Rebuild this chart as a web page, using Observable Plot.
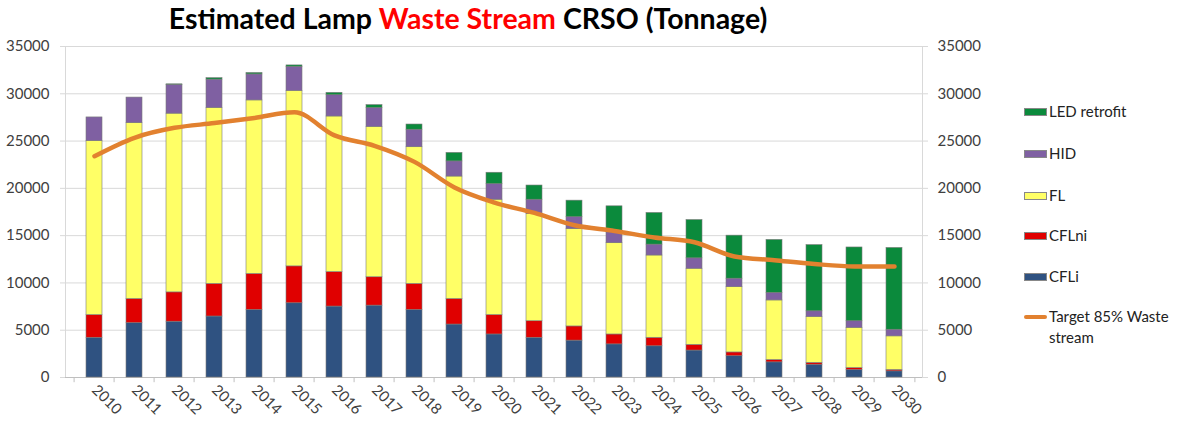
<!DOCTYPE html>
<html>
<head>
<meta charset="utf-8">
<script src="https://cdn.jsdelivr.net/npm/d3@7"></script>
<script src="https://cdn.jsdelivr.net/npm/@observablehq/plot@0.6"></script>
<style>
  body { margin: 0; background: #fff; font-family: Lato, "Open Sans", sans-serif; }
  #wrap { position: relative; width: 1180px; height: 427px; overflow: hidden; }
  #title { position: absolute; left: 0; top: 1px; width: 936px; text-align: center;
           font-weight: 700; font-size: 28.5px; color: #000; white-space: nowrap; }
  #title .red { color: #f00; }
  #chart { position: absolute; left: 0; top: 0; }
  .leg { position: absolute; left: 1024px; font-size: 15px; color: #222; line-height: 21px; white-space: nowrap; }
  .sw { display: inline-block; width: 23px; height: 8px; vertical-align: middle; margin-right: 2px;
        box-sizing: border-box; border: 0.5px solid #888; position: relative; top: -1px; }
  .ln { display: inline-block; width: 23px; height: 4px; border-radius: 2px; vertical-align: middle;
        margin-right: 2px; position: relative; top: -1px; }
</style>
</head>
<body>
<div id="wrap">
  <div id="chart"></div>
  <div id="title">Estimated Lamp <span class="red">Waste Stream</span> CRSO (Tonnage)</div>
  <div id="legend"></div>
</div>
<script>
// ---- data (tonnes) ----
const years = ["2010","2011","2012","2013","2014","2015","2016","2017","2018","2019","2020",
               "2021","2022","2023","2024","2025","2026","2027","2028","2029","2030"];
const seriesNames = ["CFLi", "CFLni", "FL", "HID", "LED retrofit"];
const seriesColors = ["#2F5281", "#E00000", "#FFFF66", "#7F60A2", "#0B8A3C"];
const CFLi  = [4200,5750,5900,6450,7150,7850,7500,7600,7150,5600,4550,4200,3900,3500,3300,2850,2250,1600,1350,800,650];
const CFLni = [2400,2550,3100,3450,3800,3900,3650,3000,2750,2700,2050,1750,1500,1050,900,600,400,250,200,200,150];
const FL    = [18400,18600,18900,18600,18350,18550,16450,15900,14450,12950,12200,11350,10300,9650,8700,8050,6900,6300,4850,4250,3550];
const HID   = [2500,2700,3050,3000,2750,2550,2250,2000,1850,1600,1650,1500,1250,1150,1150,1100,900,800,600,700,700];
const LED   = [0,0,50,150,150,150,250,300,550,900,1200,1500,1750,2750,3350,4050,4550,5600,7000,7800,8650];
const target = [23400,25350,26400,26900,27450,28050,25600,24500,22800,20100,18500,17400,16100,15500,14800,14300,12800,12400,12000,11750,11750];
const targetName = "Target 85% Waste stream";
const yTicks = [0,5000,10000,15000,20000,25000,30000,35000];

const seriesValues = [CFLi, CFLni, FL, HID, LED];
const rows = [];
years.forEach((yr, i) => {
  seriesValues.forEach((arr, s) => rows.push({year: yr, series: seriesNames[s], value: arr[i]}));
});
const lineRows = years.map((yr, i) => ({year: yr, value: target[i]}));

const step = 857 / years.length;

const chart = Plot.plot({
  width: 1180,
  height: 427,
  marginTop: 46,
  marginBottom: 50,
  marginLeft: 65,
  marginRight: 258,
  x: {domain: years, paddingInner: 0.6, paddingOuter: 0.3, axis: null, label: null},
  y: {domain: [0, 35000], axis: null, label: null},
  color: {domain: seriesNames, range: seriesColors},
  style: {fontFamily: "Lato, 'Open Sans', sans-serif", fontSize: "15px", background: "transparent"},
  marks: [
    Plot.gridY(yTicks, {stroke: "#d9d9d9", strokeOpacity: 1}),
    Plot.frame({stroke: "#d9d9d9"}),
    Plot.ruleY([0], {stroke: "#bfbfbf"}),
    Plot.ruleX(years, {x: d => d, y1: 0, y2: -550, dx: -step / 2, stroke: "#bfbfbf"}),
    Plot.ruleX([years[years.length - 1]], {x: d => d, y1: 0, y2: -550, dx: step / 2, stroke: "#bfbfbf"}),
    Plot.barY(rows, {x: "year", y: "value", fill: "series", stroke: "#7a7a7a", strokeWidth: 0.6}),
    Plot.line(lineRows, {x: "year", y: "value", stroke: "#E2812F", strokeWidth: 4.5, curve: "monotone-x"}),
    Plot.axisY({anchor: "left", ticks: yTicks, tickSize: 5, tickFormat: () => "", color: "#d9d9d9", label: null}),
    Plot.axisY({anchor: "left", ticks: yTicks, tickSize: 0, tickPadding: 16, tickFormat: d => String(d), color: "#404040", label: null}),
    Plot.axisY({anchor: "right", ticks: yTicks, tickSize: 5, tickFormat: () => "", color: "#d9d9d9", label: null}),
    Plot.axisY({anchor: "right", ticks: yTicks, tickSize: 0, tickPadding: 15, tickFormat: d => String(d), color: "#404040", label: null}),
    Plot.axisX({tickRotate: 45, tickSize: 0, tickPadding: 10, color: "#404040", label: null})
  ]
});
document.getElementById("chart").appendChild(chart);

// ---- legend (HTML), top-down order as in the reference ----
const legend = document.getElementById("legend");
const legItems = [
  {name: seriesNames[4], color: seriesColors[4], y: 101},
  {name: seriesNames[3], color: seriesColors[3], y: 143},
  {name: seriesNames[2], color: seriesColors[2], y: 185},
  {name: seriesNames[1], color: seriesColors[1], y: 225},
  {name: seriesNames[0], color: seriesColors[0], y: 266}
];
legItems.forEach(it => {
  const d = document.createElement("div");
  d.className = "leg";
  d.style.top = it.y + "px";
  d.innerHTML = `<span class="sw" style="background:${it.color}"></span>${it.name}`;
  legend.appendChild(d);
});
const tl = document.createElement("div");
tl.className = "leg";
tl.style.top = "306px";
tl.innerHTML = `<span class="ln" style="background:#E2812F"></span>Target 85% Waste<br><span style="padding-left:25px">stream</span>`;
legend.appendChild(tl);
</script>
</body>
</html>
